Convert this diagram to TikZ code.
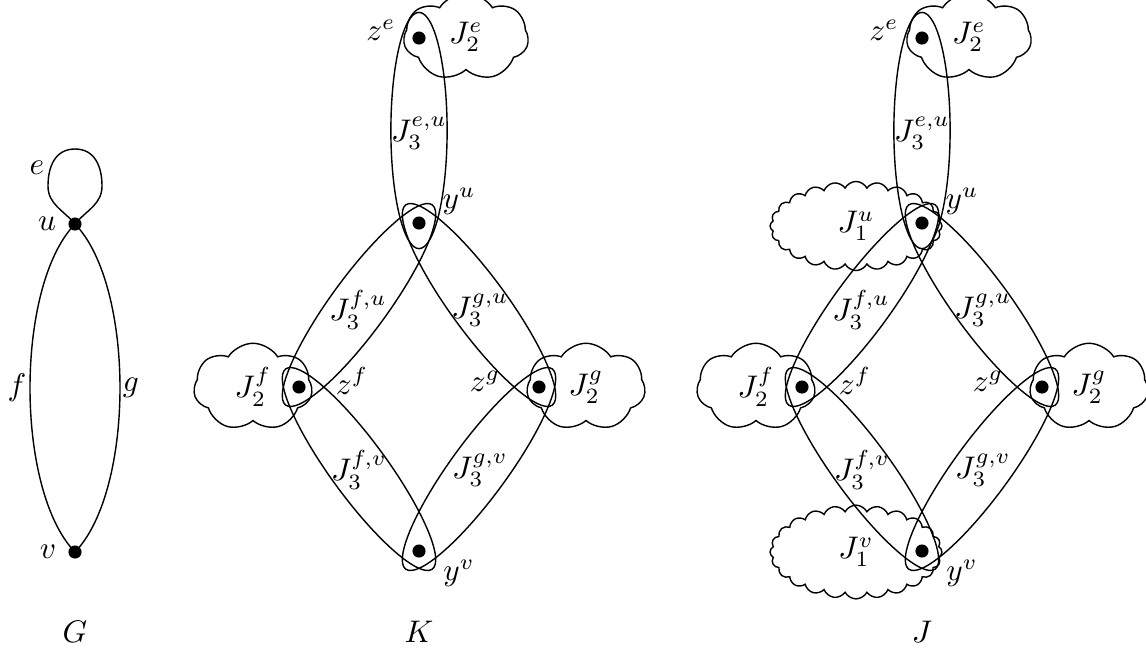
\documentclass[tikz,border=0pt]{standalone}
\usetikzlibrary{shapes.symbols}
\tikzset{
  dot/.style={circle,fill=black,inner sep=0pt,minimum size=4.2pt},
  lbl/.style={inner sep=0pt},
  bigcloud/.style={draw,cloud,cloud puffs=7,cloud puff arc=115,cloud ignores aspect,inner sep=0pt},
  smallcloud/.style={draw,cloud,cloud puffs=24,cloud puff arc=125,cloud ignores aspect,inner sep=0pt},
  hyper/.style={draw},
}
\newcommand\hypergraph[2]{%
\begin{scope}[xshift=#2]
 \node[bigcloud,minimum width=40pt,minimum height=28pt] (#1ctwoe) at (466,37) {$J_2^e$};
 \node[bigcloud,minimum width=38pt,minimum height=28pt] (#1ctwof) at (253,387) {$J_2^f$};
 \node[bigcloud,minimum width=38pt,minimum height=28pt] (#1ctwog) at (586,387) {$J_2^g$};
 \coordinate (#1meu) at (419,130.5);
 \coordinate (#1mfu) at (359,305);
 \coordinate (#1mgu) at (479,305);
 \coordinate (#1mfv) at (359,469);
 \coordinate (#1mgv) at (479,469);
 \draw[hyper,rotate around={90:(#1meu)}] (#1meu) ellipse[x radius=37.8pt,y radius=9pt];
 \draw[hyper,rotate around={53.8:(#1mfu)}] (#1mfu) ellipse[x radius=39.7pt,y radius=9pt];
 \draw[hyper,rotate around={-53.8:(#1mgu)}] (#1mgu) ellipse[x radius=39.7pt,y radius=9pt];
 \draw[hyper,rotate around={-53.8:(#1mfv)}] (#1mfv) ellipse[x radius=39.7pt,y radius=9pt];
 \draw[hyper,rotate around={53.8:(#1mgv)}] (#1mgv) ellipse[x radius=39.7pt,y radius=9pt];
 \node[dot] (#1ze) at (419,38) {};
 \node[dot] (#1yu) at (419,223) {};
 \node[dot] (#1zf) at (299,387) {};
 \node[dot] (#1zg) at (539,387) {};
 \node[dot] (#1yv) at (419,551) {};
 \node[lbl] (#1lze) at (381,30) {$z^e$};
 \node[lbl] (#1lthreeeu) at (419,133) {$J_3^{e,u}$};
 \node[lbl] (#1lyu) at (459,201) {$y^u$};
 \node[lbl] (#1lthreefu) at (358,310) {$J_3^{f,u}$};
 \node[lbl] (#1lthreegu) at (480,310) {$J_3^{g,u}$};
 \node[lbl] (#1lzf) at (352,381) {$z^f$};
 \node[lbl] (#1lzg) at (485,381) {$z^g$};
 \node[lbl] (#1lthreefv) at (359,470) {$J_3^{f,v}$};
 \node[lbl] (#1lthreegv) at (480,470) {$J_3^{g,v}$};
 \node[lbl] (#1lyv) at (459,573) {$y^v$};
\end{scope}}
\begin{document}
\begin{tikzpicture}[x=0.32pt,y=-0.32pt,line width=0.45pt]
\useasboundingbox (0,0) rectangle (1146,652);
% G
\node[dot] (u) at (75,224) {};
\node[dot] (v) at (75,552) {};
\coordinate (etop) at (75,149);
\coordinate (eleft) at (48,186);
\coordinate (eright) at (102,186);
\draw (u.center) to[out=130,in=-90] (eleft) to[out=90,in=180,looseness=1.1] (etop)
  to[out=0,in=90,looseness=1.1] (eright) to[out=-90,in=50] (u.center);
\draw (u.center) .. controls +(-60,62) and +(-60,-62) .. (v.center);
\draw (u.center) .. controls +(60,62) and +(60,-62) .. (v.center);
\node[lbl] (le) at (37,168) {$e$};
\node[lbl] (lu) at (47,224) {$u$};
\node[lbl] (lv) at (48,552) {$v$};
\node[lbl] (lf) at (17,388) {$f$};
\node[lbl] (lg) at (131,388) {$g$};
\node[lbl] (lG) at (75,632) {$G$};
% K
\hypergraph{K}{0pt}
\node[lbl] (lK) at (419,632) {$K$};
% J
\node[smallcloud,minimum width=55pt,minimum height=28.5pt] (Jconeu) at (856,226) {$J_1^u$};
\node[smallcloud,minimum width=55pt,minimum height=30pt] (Jconev) at (856,552) {$J_1^v$};
\hypergraph{J}{160.96pt}
\node[lbl] (lJ) at (922,632) {$J$};
\end{tikzpicture}
\end{document}
